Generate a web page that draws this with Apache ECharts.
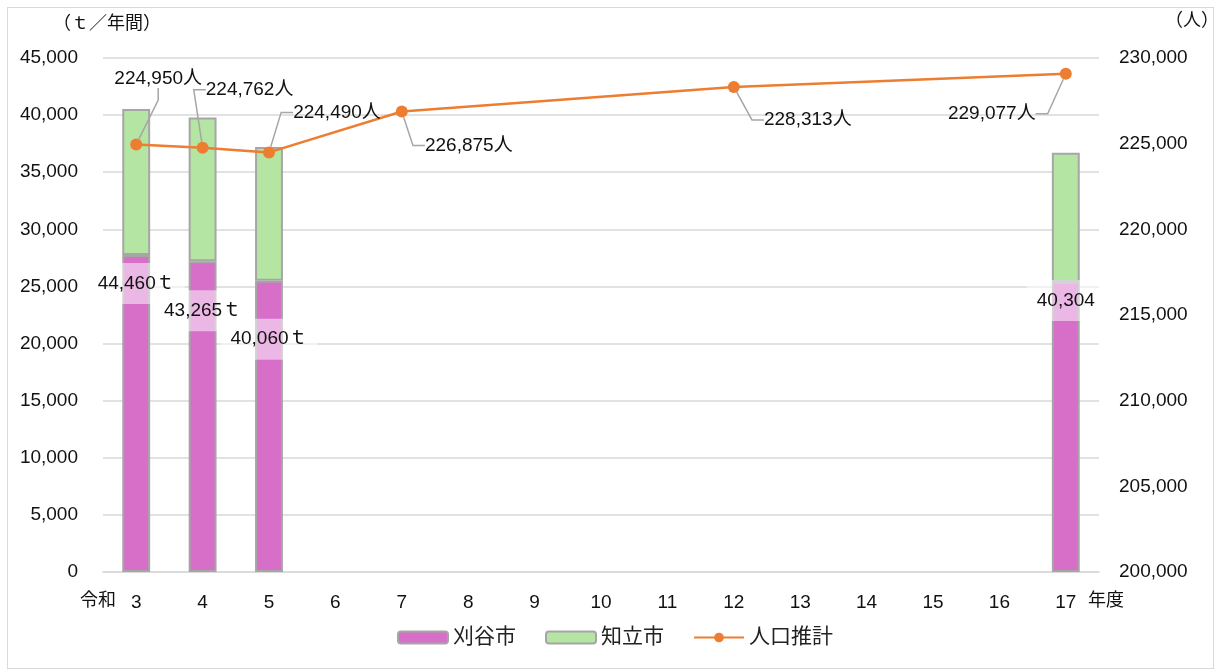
<!DOCTYPE html>
<html>
<head>
<meta charset="utf-8">
<script src="https://cdn.jsdelivr.net/npm/echarts@6/dist/echarts.min.js"></script>
<style>
  html, body { margin: 0; padding: 0; background: #fff; }
  #frame { position: absolute; left: 7px; top: 7px; width: 1205px; height: 660px; border: 1px solid #d9d9d9; }
  #chart { position: absolute; left: 0; top: 0; width: 1217px; height: 672px; }
</style>
</head>
<body>
<div id="frame"></div>
<div id="chart"></div>
<script>
// 年度（令和）
const years = ['3', '4', '5', '6', '7', '8', '9', '10', '11', '12', '13', '14', '15', '16', '17'];
// ごみ排出量（t／年間）
const kariya = [27750, 27200, 25500, null, null, null, null, null, null, null, null, null, null, null, 25400];
const chiryu = [12780, 12600, 11700, null, null, null, null, null, null, null, null, null, null, null, 11300];
// 合計ラベル（t）
const totals = [44460, 43265, 40060, null, null, null, null, null, null, null, null, null, null, null, 40304];
const totalUnits = ['ｔ', 'ｔ', 'ｔ', '', '', '', '', '', '', '', '', '', '', '', ''];
// 人口推計（人）
const population = [224950, 224762, 224490, null, 226875, null, null, null, null, 228313, null, null, null, null, 229077];

const FONT = "'Liberation Sans', 'Noto Sans CJK JP', sans-serif";
const fmt = v => v.toLocaleString('en-US');

// 合計ラベルの縦位置（棒上端からのずれ）
const totalLabelShift = [3, 24, 33, 0, 0, 0, 0, 0, 0, 0, 0, 0, 0, 0, -7];
// 人口ラベルの位置（点からのずれ）
const popLabelShift = {
  0: [22, -66], 1: [47, -58], 2: [68, -40], 4: [67, 34], 9: [74, 33], 14: [-74, 40]
};

const chart = echarts.init(document.getElementById('chart'), null, { renderer: 'canvas' });

const kariyaData = kariya.map((v, i) => {
  if (v == null) return null;
  return {
    value: v,
    label: {
      show: true,
      position: 'insideTop',
      distance: 5,
      offset: [0, totalLabelShift[i]],
      formatter: () => fmt(totals[i]) + totalUnits[i]
    }
  };
});

const option = {
  animation: false,
  textStyle: { fontFamily: FONT },
  grid: { left: 103, right: 118, top: 58, bottom: 100 },
  legend: {
    bottom: 19,
    left: 392,
    itemWidth: 50,
    itemHeight: 12,
    itemGap: 29,
    textStyle: { fontSize: 21, color: '#222', fontFamily: FONT },
    data: ['刈谷市', '知立市', '人口推計']
  },
  xAxis: {
    type: 'category',
    data: years,
    axisLine: { lineStyle: { color: '#d9d9d9', width: 1.5 } },
    axisTick: { show: false },
    axisLabel: { color: '#111', fontSize: 19, margin: 21, fontFamily: FONT }
  },
  yAxis: [
    {
      type: 'value',
      min: 0,
      max: 45000,
      interval: 5000,
      name: '（ｔ／年間）',
      nameLocation: 'end',
      nameGap: 25,
      nameTextStyle: { color: '#111', fontSize: 18, align: 'center', padding: [0, 0, 0, 8] },
      axisLine: { show: false },
      axisTick: { show: false },
      axisLabel: { color: '#111', fontSize: 19, margin: 25, formatter: v => fmt(v) },
      splitLine: { lineStyle: { color: '#d9d9d9', width: 1.5 } }
    },
    {
      type: 'value',
      min: 200000,
      max: 230000,
      interval: 5000,
      position: 'right',
      axisLine: { show: false },
      axisTick: { show: false },
      axisLabel: { color: '#111', fontSize: 19, margin: 20, formatter: v => fmt(v) },
      splitLine: { show: false }
    }
  ],
  graphic: [
    { type: 'text', left: 1165, top: 12, style: { text: '（人）', font: '18px ' + FONT, fill: '#111' } },
    { type: 'text', left: 80, top: 592, style: { text: '令和', font: '18px ' + FONT, fill: '#111' } },
    { type: 'text', left: 1088, top: 592, style: { text: '年度', font: '18px ' + FONT, fill: '#111' } }
  ],
  series: [
    {
      name: '刈谷市',
      type: 'bar',
      stack: 'waste',
      barWidth: '42%',
      data: kariyaData,
      itemStyle: { color: '#d76ec8', borderColor: '#a6a6a6', borderWidth: 2 },
      label: {
        color: '#111',
        fontSize: 19,
        fontFamily: FONT,
        backgroundColor: 'rgba(255,255,255,0.5)',
        padding: [11, 10, 11, 10]
      },
      z: 2
    },
    {
      name: '知立市',
      type: 'bar',
      stack: 'waste',
      barWidth: '42%',
      data: chiryu,
      itemStyle: { color: '#b4e5a2', borderColor: '#a6a6a6', borderWidth: 2 },
      z: 1
    },
    {
      name: '人口推計',
      type: 'line',
      yAxisIndex: 1,
      data: population,
      connectNulls: true,
      symbol: 'circle',
      symbolSize: 12,
      lineStyle: { color: '#ed7d31', width: 2.5 },
      itemStyle: { color: '#ed7d31' },
      label: {
        show: true,
        position: 'inside',
        color: '#111',
        fontSize: 19,
        fontFamily: FONT,
        formatter: p => fmt(p.value) + '人'
      },
      labelLayout: p => {
        const s = popLabelShift[p.dataIndex];
        return s ? { dx: s[0], dy: s[1] } : {};
      },
      labelLine: {
        show: true,
        length2: 12,
        lineStyle: { color: '#a6a6a6', width: 1.5 }
      },
      z: 5
    }
  ]
};

chart.setOption(option);
</script>
</body>
</html>
